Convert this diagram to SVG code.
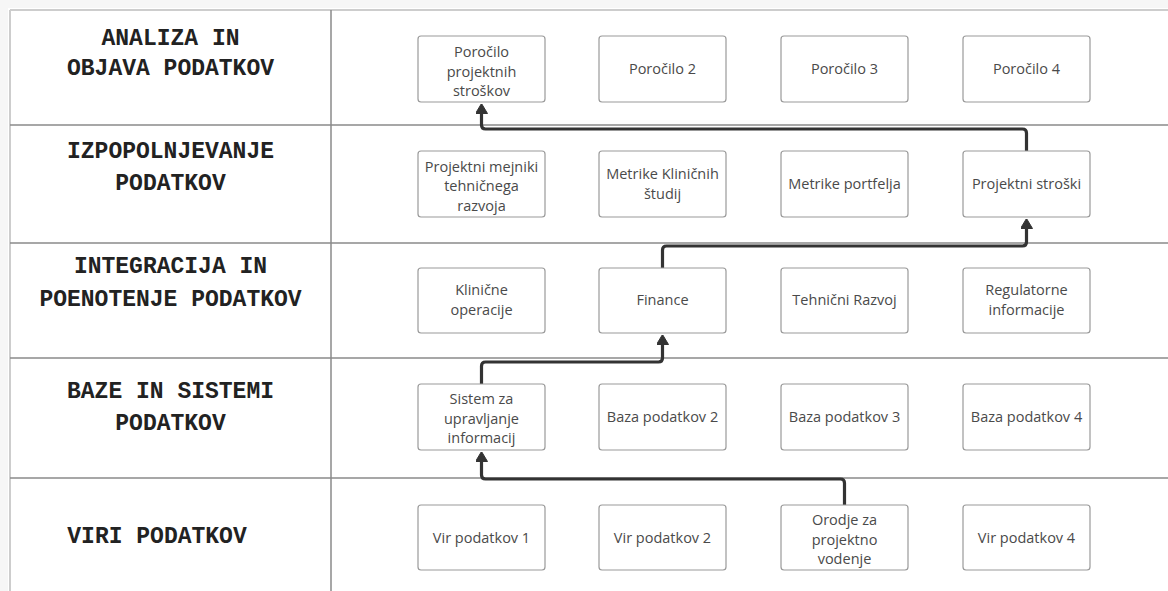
<svg xmlns="http://www.w3.org/2000/svg" width="1168" height="591" viewBox="0 0 1168 591">
<defs>
<style>
.grid{stroke:#8a8a8a;stroke-width:1.5;fill:none}
.edge{stroke:#cdcdcd;stroke-width:2;fill:none}
.lbl{font-family:"Liberation Mono","DejaVu Sans Mono",monospace;font-weight:bold;font-size:23px;fill:#222;text-anchor:middle}
.box{fill:#fff;stroke:#9a9a9a;stroke-width:1.2}
.bt{font-family:"Open Sans","Noto Sans",sans-serif;font-size:14.5px;fill:#4a4a4a;text-anchor:middle}
.conn{fill:none;stroke:#333;stroke-width:3.2;stroke-linejoin:round}
</style>
<marker id="arr" markerUnits="userSpaceOnUse" viewBox="0 0 10 12" refX="0.5" refY="6" markerWidth="10" markerHeight="12" orient="auto">
<path d="M0,0 L10,6 L0,12 Z" fill="#333" stroke="#333" stroke-width="1" stroke-linejoin="round"/>
</marker>
</defs>
<rect width="1168" height="591" fill="#fff"/>
<rect x="0" y="0" width="1168" height="8" fill="#f6f6f6"/>
<rect x="0" y="0" width="8" height="591" fill="#f6f6f6"/>
<g id="table">
<line class="edge" x1="10" y1="10" x2="1168" y2="10"/>
<line class="edge" x1="10" y1="10" x2="10" y2="591"/>
<line class="grid" x1="331" y1="10" x2="331" y2="591"/>
<line class="grid" x1="10" y1="125" x2="1168" y2="125"/>
<line class="grid" x1="10" y1="243" x2="1168" y2="243"/>
<line class="grid" x1="10" y1="358" x2="1168" y2="358"/>
<line class="grid" x1="10" y1="478" x2="1168" y2="478"/>
</g>
<g id="labels">
<text class="lbl" x="170.5" y="45">ANALIZA IN</text>
<text class="lbl" x="170.5" y="75">OBJAVA PODATKOV</text>
<text class="lbl" x="170.5" y="158">IZPOPOLNJEVANJE</text>
<text class="lbl" x="170.5" y="190">PODATKOV</text>
<text class="lbl" x="170.5" y="273">INTEGRACIJA IN</text>
<text class="lbl" x="170.5" y="306">POENOTENJE PODATKOV</text>
<text class="lbl" x="170.5" y="398">BAZE IN SISTEMI</text>
<text class="lbl" x="170.5" y="430">PODATKOV</text>
<text class="lbl" x="157" y="543">VIRI PODATKOV</text>
</g>
<g id="connectors">
<path class="conn" d="M844.5,505 V483 Q844.5,479 840.5,479 H485.5 Q481.5,479 481.5,475 V461" marker-end="url(#arr)"/>
<path class="conn" d="M481.5,384 V366 Q481.5,362 485.5,362 H658.5 Q662.5,362 662.5,358 V344" marker-end="url(#arr)"/>
<path class="conn" d="M662.5,268 V250 Q662.5,246 666.5,246 H1022.5 Q1026.5,246 1026.5,242 V228" marker-end="url(#arr)"/>
<path class="conn" d="M1026.5,151 V133 Q1026.5,129 1022.5,129 H485.5 Q481.5,129 481.5,125 V113" marker-end="url(#arr)"/>
</g>
<g id="n-porocilo1"><rect class="box" x="418" y="36" width="127" height="66" rx="3"/><text class="bt" x="481.5" y="57">Poročilo</text><text class="bt" x="481.5" y="76.5">projektnih</text><text class="bt" x="481.5" y="96">stroškov</text></g>
<g id="n-porocilo2"><rect class="box" x="599" y="36" width="127" height="66" rx="3"/><text class="bt" x="662.5" y="74">Poročilo 2</text></g>
<g id="n-porocilo3"><rect class="box" x="781" y="36" width="127" height="66" rx="3"/><text class="bt" x="844.5" y="74">Poročilo 3</text></g>
<g id="n-porocilo4"><rect class="box" x="963" y="36" width="127" height="66" rx="3"/><text class="bt" x="1026.5" y="74">Poročilo 4</text></g>
<g id="n-mejniki"><rect class="box" x="418" y="151" width="127" height="66" rx="3"/><text class="bt" x="481.5" y="171.5">Projektni mejniki</text><text class="bt" x="481.5" y="191">tehničnega</text><text class="bt" x="481.5" y="210.5">razvoja</text></g>
<g id="n-metrike-klin"><rect class="box" x="599" y="151" width="127" height="66" rx="3"/><text class="bt" x="662.5" y="179">Metrike Kliničnih</text><text class="bt" x="662.5" y="198.5">študij</text></g>
<g id="n-metrike-port"><rect class="box" x="781" y="151" width="127" height="66" rx="3"/><text class="bt" x="844.5" y="189">Metrike portfelja</text></g>
<g id="n-stroski"><rect class="box" x="963" y="151" width="127" height="66" rx="3"/><text class="bt" x="1026.5" y="189">Projektni stroški</text></g>
<g id="n-klinicne"><rect class="box" x="418" y="268" width="127" height="65" rx="3"/><text class="bt" x="481.5" y="295">Klinične</text><text class="bt" x="481.5" y="314.5">operacije</text></g>
<g id="n-finance"><rect class="box" x="599" y="268" width="127" height="65" rx="3"/><text class="bt" x="662.5" y="305">Finance</text></g>
<g id="n-tehnicni"><rect class="box" x="781" y="268" width="127" height="65" rx="3"/><text class="bt" x="844.5" y="305">Tehnični Razvoj</text></g>
<g id="n-regulatorne"><rect class="box" x="963" y="268" width="127" height="65" rx="3"/><text class="bt" x="1026.5" y="295">Regulatorne</text><text class="bt" x="1026.5" y="314.5">informacije</text></g>
<g id="n-sistem"><rect class="box" x="418" y="384" width="127" height="66" rx="3"/><text class="bt" x="481.5" y="404">Sistem za</text><text class="bt" x="481.5" y="423.5">upravljanje</text><text class="bt" x="481.5" y="443">informacij</text></g>
<g id="n-baza2"><rect class="box" x="599" y="384" width="127" height="66" rx="3"/><text class="bt" x="662.5" y="422">Baza podatkov 2</text></g>
<g id="n-baza3"><rect class="box" x="781" y="384" width="127" height="66" rx="3"/><text class="bt" x="844.5" y="422">Baza podatkov 3</text></g>
<g id="n-baza4"><rect class="box" x="963" y="384" width="127" height="66" rx="3"/><text class="bt" x="1026.5" y="422">Baza podatkov 4</text></g>
<g id="n-vir1"><rect class="box" x="418" y="505" width="127" height="65" rx="3"/><text class="bt" x="481.5" y="542.5">Vir podatkov 1</text></g>
<g id="n-vir2"><rect class="box" x="599" y="505" width="127" height="65" rx="3"/><text class="bt" x="662.5" y="542.5">Vir podatkov 2</text></g>
<g id="n-orodje"><rect class="box" x="781" y="505" width="127" height="65" rx="3"/><text class="bt" x="844.5" y="525">Orodje za</text><text class="bt" x="844.5" y="544.5">projektno</text><text class="bt" x="844.5" y="564">vodenje</text></g>
<g id="n-vir4"><rect class="box" x="963" y="505" width="127" height="65" rx="3"/><text class="bt" x="1026.5" y="542.5">Vir podatkov 4</text></g>
</svg>
